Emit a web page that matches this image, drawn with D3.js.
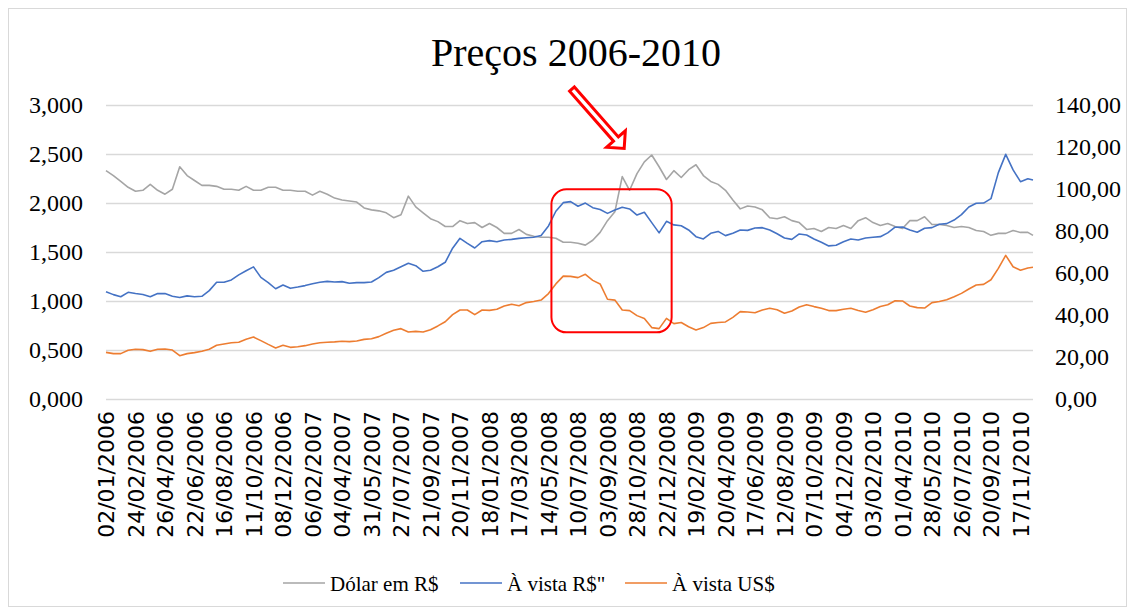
<!DOCTYPE html>
<html><head><meta charset="utf-8">
<script src="https://cdn.jsdelivr.net/npm/d3@7"></script>
<style>html,body{margin:0;padding:0;background:#fff;} svg{display:block;}</style>
</head><body><svg id="c" width="1135" height="614"></svg>
<script>
// ---------- DATA ----------
const tickLabels = ["02/01/2006","24/02/2006","26/04/2006","22/06/2006","16/08/2006","11/10/2006","08/12/2006",
  "06/02/2007","04/04/2007","31/05/2007","27/07/2007","21/09/2007","20/11/2007",
  "18/01/2008","17/03/2008","14/05/2008","10/07/2008","03/09/2008","28/10/2008","22/12/2008",
  "19/02/2009","20/04/2009","17/06/2009","12/08/2009","07/10/2009","04/12/2009",
  "03/02/2010","01/04/2010","28/05/2010","26/07/2010","20/09/2010","17/11/2010"];
const tickEvery = 40;          // trading days between category labels
const lastDay = 1257;          // index of last trading day
const sampleDay = d3.range(0, 1251, 10).concat([lastDay]);

// Dólar em R$ (left axis)
const dolar = [2.33,2.28,2.22,2.16,2.12,2.13,2.19,2.13,2.09,2.14,2.37,2.28,2.23,2.18,2.18,2.17,2.14,2.14,2.13,2.17,
  2.13,2.13,2.16,2.16,2.13,2.13,2.12,2.12,2.08,2.12,2.09,2.05,2.03,2.02,2.01,1.95,1.93,1.92,1.90,1.85,
  1.88,2.07,1.96,1.90,1.84,1.81,1.76,1.76,1.82,1.79,1.80,1.75,1.79,1.75,1.69,1.69,1.73,1.68,1.66,1.65,
  1.65,1.64,1.60,1.60,1.59,1.57,1.62,1.70,1.82,1.91,2.27,2.13,2.30,2.42,2.49,2.37,2.24,2.33,2.26,2.34,
  2.39,2.28,2.22,2.19,2.13,2.03,1.94,1.97,1.96,1.93,1.85,1.84,1.86,1.82,1.80,1.73,1.74,1.71,1.75,1.74,
  1.77,1.74,1.82,1.85,1.80,1.77,1.79,1.76,1.74,1.82,1.82,1.86,1.78,1.78,1.77,1.75,1.76,1.75,1.72,1.71,
  1.67,1.69,1.69,1.72,1.70,1.70,1.67];
// À vista R$ (right axis)
const avistaRS = [51.1,49.7,48.7,50.8,50.2,49.8,48.7,50.2,50.2,48.9,48.3,49.1,48.7,48.9,51.6,55.6,55.6,56.7,59.1,61.1,
  62.9,57.9,55.4,52.5,54.3,52.7,53.3,54.0,54.9,55.6,56.0,55.7,55.9,55.1,55.4,55.4,55.7,57.8,60.3,61.3,
  63.0,64.6,63.5,60.8,61.3,63.0,65.1,71.8,76.5,74.1,71.9,74.9,75.4,74.9,75.7,76.0,76.5,76.8,77.0,77.9,
  82.4,89.4,93.5,94.0,91.8,93.3,91.1,90.2,88.4,90.0,91.3,90.5,87.6,88.9,84.0,79.1,84.6,82.9,82.5,80.5,
  77.3,76.2,78.9,79.8,77.8,78.9,80.5,80.3,81.4,81.6,80.5,78.7,76.7,76.0,78.6,78.1,76.2,74.6,72.9,73.2,
  74.9,76.2,75.7,76.7,77.0,77.3,79.1,81.8,81.9,80.5,79.4,81.3,81.6,83.2,83.5,85.2,87.8,91.4,93.2,93.3,
  95.4,107.8,116.5,109.1,103.5,104.9,104.3];
// À vista US$ (right axis)
const avistaUS = [22.2,21.6,21.6,23.2,23.7,23.5,22.7,23.7,23.8,23.3,20.6,21.6,22.1,22.7,23.7,25.6,26.2,26.8,27.0,28.4,
  29.5,27.8,26.0,24.3,25.6,24.6,24.9,25.4,26.2,26.8,27.0,27.2,27.5,27.3,27.6,28.4,28.7,29.7,31.3,32.7,
  33.5,31.9,32.2,31.9,33.0,34.8,36.8,40.2,42.4,42.4,40.2,42.4,42.2,42.7,44.3,45.1,44.4,45.9,46.4,47.1,
  50.2,54.8,58.5,58.4,57.8,59.4,56.5,54.8,47.5,47.1,42.4,42.1,39.7,38.3,34.0,33.5,38.4,35.9,36.4,34.4,
  32.9,34.0,36.0,36.4,36.7,38.9,41.6,41.4,41.1,42.4,43.2,42.5,40.8,41.9,43.8,44.9,44.0,43.2,42.1,42.1,
  42.7,43.2,42.1,41.3,42.5,44.0,44.9,46.8,46.7,44.3,43.5,43.3,45.9,46.4,47.3,48.7,50.3,52.4,54.3,54.6,
  56.8,62.2,68.4,63.0,61.3,62.4,62.7];

const leftTicks = [0, 0.5, 1, 1.5, 2, 2.5, 3];
const rightTicks = [0, 20, 40, 60, 80, 100, 120, 140];
const seriesNames = ["Dólar em R$", "À vista R$\"", "À vista US$"];
const seriesColors = ["#a5a5a5", "#4472c4", "#ed7d31"];
// annotation (in data coordinates: trading day, left-axis value)
const highlightBox = {d0: 604, d1: 767, v0: 0.68, v1: 2.14};
const arrowData = {tailDay: 631, tailVal: 3.17, tipDay: 704, tipVal: 2.545};

// ---------- CHART ----------
const W = 1135, H = 614;
const plot = {l: 106, r: 1033, t: 105, b: 399};
const svg = d3.select('#c');
const serif = "'Liberation Serif', 'DejaVu Serif', serif";
const sans = "'DejaVu Sans', sans-serif";
const loc = d3.formatLocale({decimal: ",", thousands: ".", grouping: [3], currency: ["R$", ""]});

svg.append('rect').attr('x', 0).attr('y', 0).attr('width', W).attr('height', H).attr('fill', '#fff');
svg.append('rect').attr('x', 8.5).attr('y', 8.5).attr('width', 1118).attr('height', 598)
  .attr('fill', 'none').attr('stroke', '#d9d9d9').attr('stroke-width', 1);

const x = d3.scaleLinear().domain([0, lastDay]).range([plot.l, plot.r]);
const yL = d3.scaleLinear().domain([0, 3]).range([plot.b, plot.t]);
const yR = d3.scaleLinear().domain([0, 140]).range([plot.b, plot.t]);

// gridlines
const grid = svg.append('g').attr('transform', `translate(${plot.l},0)`)
  .call(d3.axisLeft(yL).tickValues(leftTicks).tickSize(-(plot.r - plot.l)).tickFormat(''));
grid.select('.domain').remove();
grid.selectAll('line').attr('stroke', '#d9d9d9').attr('stroke-width', 1.5);

// left axis labels
const gl = svg.append('g').attr('transform', `translate(${plot.l},0)`)
  .call(d3.axisLeft(yL).tickValues(leftTicks).tickSize(0).tickPadding(23).tickFormat(loc.format('.3f')));
gl.select('.domain').remove();
gl.selectAll('text').attr('font-family', serif).attr('font-size', 24).attr('fill', '#000');

// right axis labels
const gr = svg.append('g').attr('transform', `translate(${plot.r},0)`)
  .call(d3.axisRight(yR).tickValues(rightTicks).tickSize(0).tickPadding(22).tickFormat(loc.format('.2f')));
gr.select('.domain').remove();
gr.selectAll('text').attr('font-family', serif).attr('font-size', 24).attr('fill', '#000');

// x axis labels
const tickDays = tickLabels.map((_, i) => i * tickEvery);
const gx = svg.append('g').attr('transform', `translate(0,${plot.b})`)
  .call(d3.axisBottom(x).tickValues(tickDays).tickSize(0).tickFormat((d, i) => tickLabels[i]));
gx.select('.domain').remove();
gx.selectAll('text').attr('font-family', sans).attr('font-size', 22).attr('fill', '#000')
  .attr('transform', 'rotate(-90)').attr('x', -12).attr('y', 0).attr('dy', '0.36em')
  .style('text-anchor', 'end');

// lines
const lines = [
  {vals: dolar, y: yL, color: seriesColors[0]},
  {vals: avistaRS, y: yR, color: seriesColors[1]},
  {vals: avistaUS, y: yR, color: seriesColors[2]}
];
lines.forEach(s => {
  const gen = d3.line().x((d, i) => x(sampleDay[i])).y(d => s.y(d));
  svg.append('path').datum(s.vals).attr('d', gen).attr('fill', 'none')
    .attr('stroke', s.color).attr('stroke-width', 1.6).attr('stroke-linejoin', 'round');
});

// title
svg.append('text').attr('x', 576).attr('y', 66).attr('text-anchor', 'middle')
  .attr('font-family', serif).attr('font-size', 40).attr('fill', '#000').text('Preços 2006-2010');

// highlight box
svg.append('rect')
  .attr('x', x(highlightBox.d0)).attr('y', yL(highlightBox.v1))
  .attr('width', x(highlightBox.d1) - x(highlightBox.d0))
  .attr('height', yL(highlightBox.v0) - yL(highlightBox.v1))
  .attr('rx', 15).attr('ry', 15).attr('fill', 'none').attr('stroke', '#ff0000').attr('stroke-width', 2);

// arrow
(function () {
  const x0 = x(arrowData.tailDay), y0 = yL(arrowData.tailVal);
  const x1 = x(arrowData.tipDay), y1 = yL(arrowData.tipVal);
  const L = Math.hypot(x1 - x0, y1 - y0);
  const ang = Math.atan2(y1 - y0, x1 - x0) * 180 / Math.PI;
  const hl = 14, sw = 3.2, hw = 12.5;
  const pts = [[1, -sw], [L - hl, -sw], [L - hl, -hw], [L - 1.5, 0], [L - hl, hw], [L - hl, sw], [1, sw]];
  svg.append('path')
    .attr('d', 'M' + pts.map(p => p.join(',')).join('L') + 'Z')
    .attr('transform', `translate(${x0},${y0}) rotate(${ang})`)
    .attr('fill', '#fff').attr('stroke', '#ff0000').attr('stroke-width', 3).attr('stroke-linejoin', 'miter');
})();

// legend
const legendItems = [{x: 283}, {x: 460}, {x: 625}];
legendItems.forEach((it, i) => {
  const g = svg.append('g').attr('transform', `translate(${it.x},583)`);
  g.append('line').attr('x1', 0).attr('x2', 42).attr('y1', 0).attr('y2', 0)
    .attr('stroke', seriesColors[i]).attr('stroke-width', 1.6);
  g.append('text').attr('x', 47).attr('y', 8).attr('font-family', serif).attr('font-size', 21)
    .attr('fill', '#000').text(seriesNames[i]);
});
</script></body></html>
